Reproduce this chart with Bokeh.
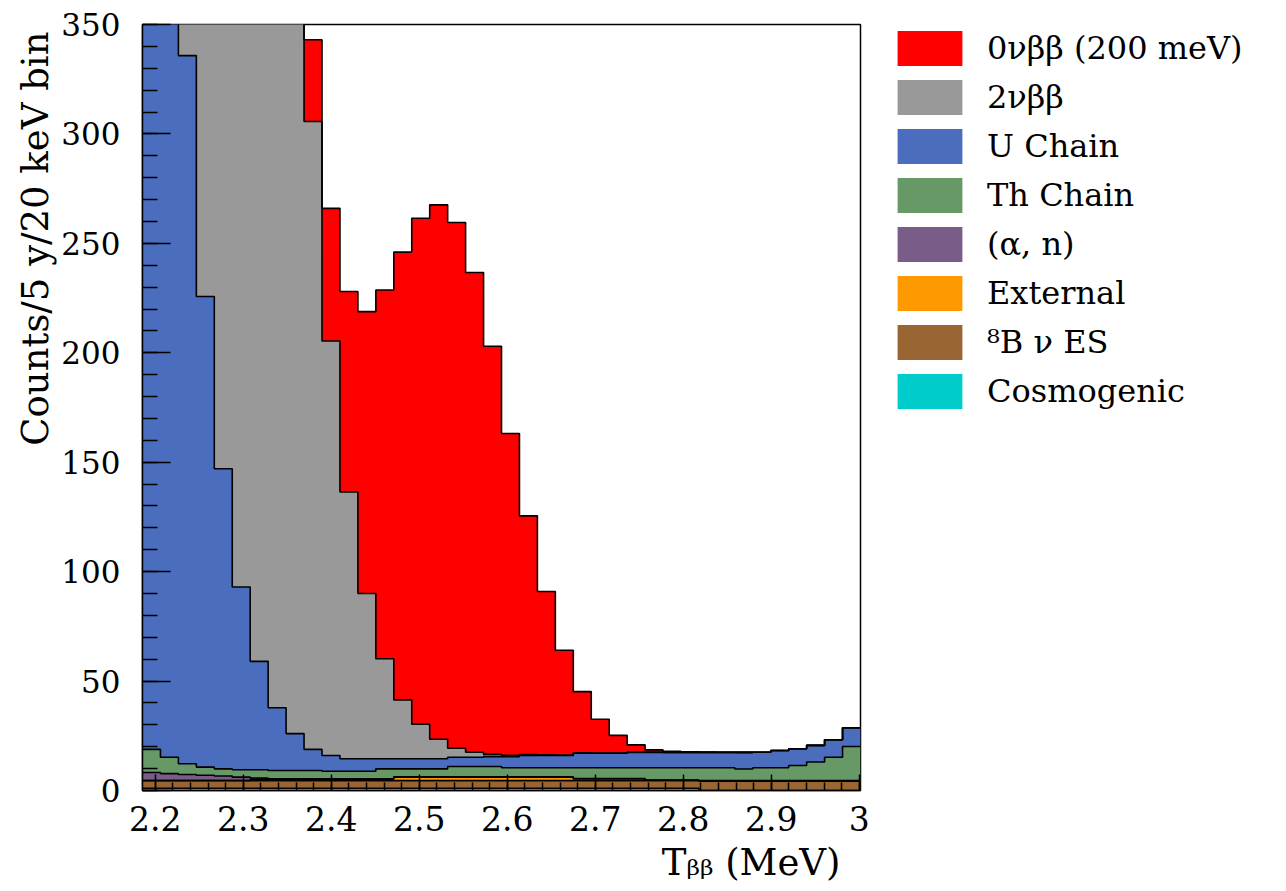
import numpy as np
from bokeh.plotting import figure
from bokeh.models import FixedTicker, Legend, LegendItem, Title, Range1d
from bokeh.embed import file_html
from bokeh.resources import INLINE

# ---------------- data ----------------
x_lo, x_hi = 2.1855, 3.0013
n_bins = 40

cosmogenic = [1.0, 1.0, 1.0, 1.0, 1.0, 1.0, 1.0, 1.0, 1.0, 1.0,
              1.0, 1.0, 1.0, 1.0, 1.0, 1.0, 1.0, 1.0, 1.0, 1.0,
              1.0, 1.0, 1.0, 1.0, 1.0, 1.0, 1.0, 1.0, 1.0, 1.0,
              1.0, 0.0, 0.0, 0.0, 0.0, 0.0, 0.0, 0.0, 0.0, 0.0]
b8_nu_es = [3.5, 3.5, 3.5, 3.5, 3.5, 3.5, 3.5, 3.5, 3.5, 3.5,
            3.5, 3.5, 3.5, 3.5, 3.5, 3.5, 3.5, 3.5, 3.5, 3.5,
            3.5, 3.5, 3.5, 3.5, 3.5, 3.5, 3.5, 3.5, 3.5, 3.5,
            3.5, 4.2, 4.2, 4.2, 4.2, 4.2, 4.2, 4.2, 4.2, 4.2]
external = [0.1, 0.1, 0.1, 0.1, 0.1, 0.1, 0.7, 0.7, 0.7, 0.7,
            0.7, 0.7, 0.7, 0.7, 1.6, 1.6, 1.6, 1.6, 1.6, 1.6,
            1.6, 1.6, 1.6, 1.6, 0.8, 0.8, 0.8, 0.8, 0.15, 0.15,
            0.15, 0.15, 0.15, 0.15, 0.15, 0.15, 0.15, 0.15, 0.15, 0.15]
alpha_n = [3.6, 3.1, 2.7, 2.4, 2.0, 1.5, 0.5, 0.15, 0.15, 0.15,
           0.15, 0.15, 0.15, 0.15, 0.15, 0.15, 0.15, 0.15, 0.15, 0.15,
           0.15, 0.15, 0.15, 0.15, 0.15, 0.15, 0.15, 0.15, 0.15, 0.15,
           0.15, 0.15, 0.15, 0.15, 0.15, 0.15, 0.15, 0.15, 0.15, 0.15]
th_chain = [10.6, 7.5, 4.9, 3.7, 3.3, 3.4, 3.8, 3.8, 3.8, 3.8,
            3.45, 3.45, 3.45, 4.55, 3.65, 3.65, 3.65, 4.75, 4.75, 4.75,
            4.15, 4.15, 4.15, 4.15, 4.95, 4.95, 4.95, 4.95, 5.6, 5.6,
            5.6, 5.9, 5.9, 5.3, 5.9, 5.9, 6.9, 8.5, 10.7, 15.6]
u_chain = [501.2, 384.8, 323.6, 215.0, 137.1, 83.5, 49.5, 28.65, 16.85, 9.65,
           7.2, 5.7, 5.7, 4.6, 4.6, 4.6, 4.6, 4.2, 4.2, 4.5,
           5.1, 5.6, 5.6, 5.6, 6.6, 6.6, 6.6, 7.0, 7.0, 7.0,
           7.0, 7.0, 7.0, 7.6, 7.1, 7.9, 7.7, 7.6, 8.0, 8.6]
two_nu_bb = [3050.0, 2550.0, 2100.0, 1700.0, 1350.0, 1050.0, 800.0, 590.0, 420.0, 286.9,
             189.4, 121.9, 75.5, 45.7, 26.9, 15.8, 8.9, 4.1, 2.3, 1.0,
             0.6, 0.4, 0.3, 0.25, 0.2, 0.15, 0.1, 0.05, 0.05, 0.03,
             0.0, 0.0, 0.0, 0.0, 0.0, 0.0, 0.0, 0.0, 0.0, 0.0]
zero_nu_bb = [0.05, 0.1, 0.3, 0.7, 1.5, 3.0, 6.0, 12.0, 22.0, 37.3,
              60.6, 91.6, 128.8, 168.5, 204.6, 231.2, 244.2, 240.2, 219.2, 186.5,
              147.0, 109.1, 74.6, 47.8, 28.0, 15.4, 8.1, 3.4, 1.1, 0.5,
              0.25, 0.12, 0.06, 0.03, 0.0, 0.0, 0.0, 0.0, 0.0, 0.0]

names = ["Cosmogenic", "\u2078B \u03bd ES", "External", "(\u03b1, n)",
         "Th Chain", "U Chain", "2\u03bd\u03b2\u03b2", "0\u03bd\u03b2\u03b2 (200 meV)"]
colors = ["#00cccc", "#996633", "#ff9900", "#7a5c88",
          "#669966", "#4a6dbd", "#999999", "#ff0000"]
series = [cosmogenic, b8_nu_es, external, alpha_n, th_chain, u_chain, two_nu_bb, zero_nu_bb]

x_ticks = [2.2, 2.3, 2.4, 2.5, 2.6, 2.7, 2.8, 2.9, 3.0]
y_ticks = [0, 50, 100, 150, 200, 250, 300, 350]

FONT = "DejaVu Serif"

# ---------------- figure ----------------
p = figure(frame_width=718, frame_height=766,
           min_border_left=142, min_border_right=410,
           min_border_top=24, min_border_bottom=98,
           x_range=Range1d(x_lo, x_hi), y_range=Range1d(0, 350),
           output_backend="svg", toolbar_location=None,
           background_fill_color="white", border_fill_color="white")
p.xgrid.visible = False
p.ygrid.visible = False
p.outline_line_color = "black"
p.outline_line_width = 1.5

edges = np.linspace(x_lo, x_hi, n_bins + 1)
x_step = np.repeat(edges, 2)[1:-1]
cum = np.cumsum(np.array(series, dtype=float), axis=0)

fill_renderers = []
for k in range(len(series)):
    lower = cum[k - 1] if k > 0 else np.zeros(n_bins)
    r = p.varea(x=x_step, y1=np.repeat(lower, 2), y2=np.repeat(cum[k], 2),
                fill_color=colors[k], fill_alpha=1.0)
    fill_renderers.append(r)

for k in reversed(range(len(series))):
    p.line(x=x_step, y=np.repeat(cum[k], 2), line_color="black", line_width=1.6)

# axes
p.xaxis.ticker = FixedTicker(ticks=x_ticks,
                             minor_ticks=list(np.round(np.arange(2.2, 3.0001, 0.02), 2)))
p.xaxis.major_label_overrides = {3.0: "3"}
p.yaxis.ticker = FixedTicker(ticks=y_ticks, minor_ticks=list(range(0, 351, 10)))
for ax in (p.xaxis[0], p.yaxis[0]):
    ax.axis_line_color = "black"
    ax.axis_line_width = 1.5
    ax.major_tick_line_color = "black"
    ax.minor_tick_line_color = "black"
    ax.major_tick_line_width = 1.5
    ax.minor_tick_line_width = 1.5
    ax.major_tick_out = 0
    ax.minor_tick_out = 0
    ax.major_label_text_font = FONT
    ax.major_label_text_color = "black"
p.xaxis.major_label_text_font_size = "33px"
p.yaxis.major_label_text_font_size = "31px"
p.xaxis.major_tick_in = 16
p.xaxis.minor_tick_in = 8
p.yaxis.major_tick_in = 28
p.yaxis.minor_tick_in = 15
p.yaxis.major_label_standoff = 22
p.xaxis.major_label_standoff = 15

# axis titles (ROOT style: aligned to the axis end)
p.add_layout(Title(text="Counts/5 y/20 keV bin", align="right", offset=7, standoff=4,
                   text_font=FONT, text_font_size="37px", text_font_style="normal",
                   text_color="black"), "left")
p.add_layout(Title(text="T\u1d66\u1d66 (MeV)", align="right", offset=20, standoff=10,
                   text_font=FONT, text_font_size="37px", text_font_style="normal",
                   text_color="black"), "below")

# legend (outside, right of the frame)
items = [LegendItem(label=names[k], renderers=[fill_renderers[k]])
         for k in reversed(range(len(series)))]
legend = Legend(items=items, location=(29, 377), orientation="vertical",
                glyph_width=81, glyph_height=44, label_standoff=17, spacing=5,
                padding=0, margin=0, border_line_color=None, background_fill_alpha=0,
                label_text_font=FONT, label_text_font_size="32px", label_height=38,
                label_text_color="black", label_text_baseline="middle")
p.add_layout(legend, "right")

open("out.html", "w").write(file_html(p, INLINE))
